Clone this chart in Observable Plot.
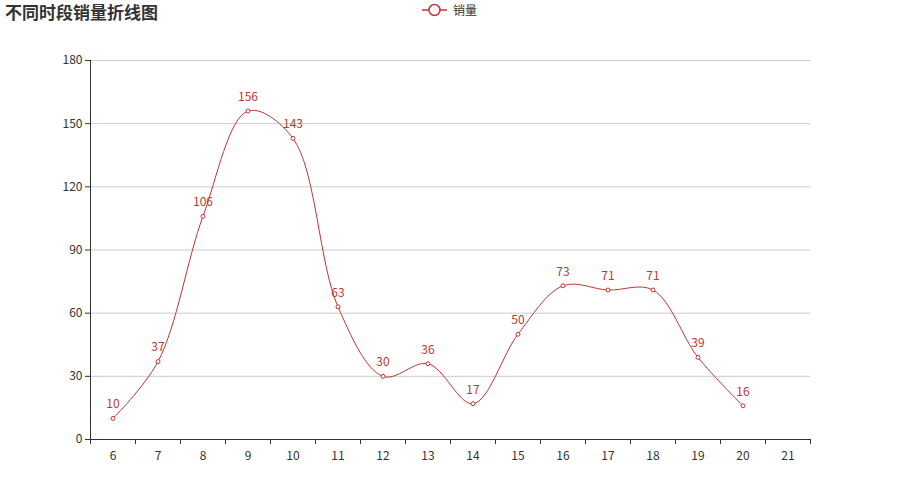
<!DOCTYPE html>
<html><head><meta charset="utf-8">
<script src="https://cdn.jsdelivr.net/npm/d3@7"></script>
<script src="https://cdn.jsdelivr.net/npm/@observablehq/plot@0.6"></script>
<style>
body{margin:0;background:#fff;font-family:"Noto Sans CJK SC","Noto Sans",sans-serif;}
#wrap{position:relative;width:900px;height:500px;}
#title{position:absolute;left:5px;top:-1px;font-size:17px;font-weight:bold;color:#333;}
#legend{position:absolute;left:422px;top:1px;font-size:12px;color:#333;display:flex;align-items:center;}
</style></head>
<body><div id="wrap"><div id="title">不同时段销量折线图</div>
<div id="legend"><svg width="26" height="16"><line x1="0" y1="8" x2="25" y2="8" stroke="#c23531" stroke-width="1.5"/><circle cx="12.5" cy="8" r="5.5" fill="#fff" stroke="#c23531" stroke-width="1.5"/></svg><span style="margin-left:5px">销量</span></div>
</div>
<script>
const categories = [6,7,8,9,10,11,12,13,14,15,16,17,18,19,20,21];
const sales = [10,37,106,156,143,63,30,36,17,50,73,71,71,39,16,null];
const yTicks = [0,30,60,90,120,150,180];
const color = "#c23531";

const data = categories.map((c,i)=>({hour:c, v:sales[i]})).filter(d=>d.v!=null);
const lo = categories[0]-0.5, hi = categories[categories.length-1]+0.5;
const bounds = categories.map(c=>c-0.5).concat([hi]);

const chart = Plot.plot({
  width:900, height:500,
  marginLeft:90, marginRight:90, marginTop:60, marginBottom:61,
  style:{fontFamily:"'Noto Sans CJK SC','Noto Sans',sans-serif", fontSize:"12px", color:"#333"},
  x:{type:"linear", domain:[lo,hi]},
  y:{domain:[0,180]},
  marks:[
    Plot.ruleY(yTicks.filter(t=>t>0), {stroke:"#ccc", strokeWidth:1}),
    Plot.axisY({ticks:yTicks, tickSize:5, tickPadding:3, label:null, tickFormat:d=>String(d), fill:"#333", stroke:"#333", fontSize:12}),
    Plot.axisX({ticks:bounds, tickSize:5, tickFormat:()=>"" , label:null, stroke:"#333"}),
    Plot.axisX({ticks:categories, tickSize:0, tickPadding:12, label:null, tickFormat:d=>String(d), fill:"#333", fontSize:12}),
    Plot.ruleY([0], {stroke:"#333"}),
    Plot.ruleX([lo], {stroke:"#333"}),
    Plot.line(data, {x:"hour", y:"v", stroke:color, strokeWidth:1, curve:"catmull-rom"}),
    Plot.dot(data, {x:"hour", y:"v", r:2, fill:"#fff", stroke:color, strokeWidth:1}),
    Plot.text(data, {x:"hour", y:"v", text:d=>String(d.v), dy:-14, fill:color, fontSize:12})
  ]
});
chart.style.position="absolute"; chart.style.left="0"; chart.style.top="0";
document.getElementById("wrap").prepend(chart);
</script></body></html>
